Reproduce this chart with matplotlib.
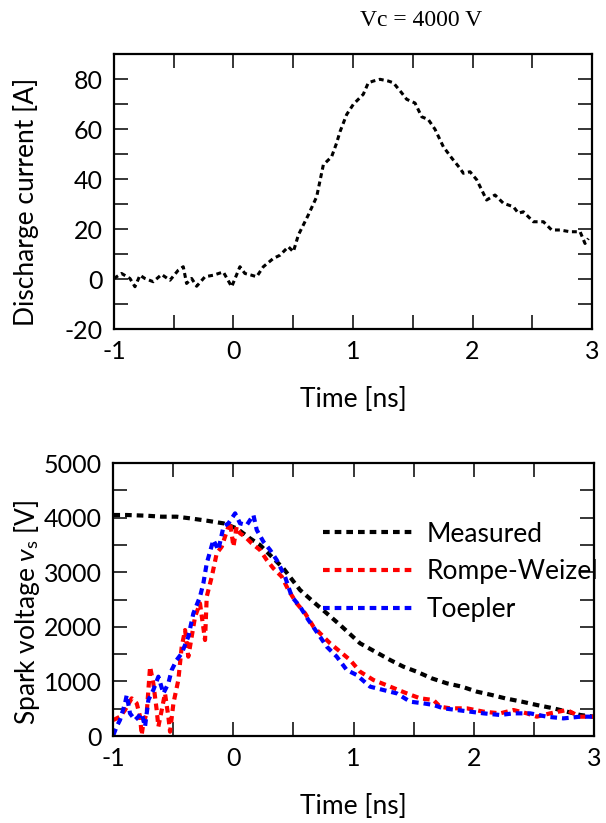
import matplotlib
matplotlib.use('Agg')
import matplotlib.pyplot as plt
from matplotlib.ticker import MultipleLocator

plt.rcParams['font.family'] = ['Lato', 'DejaVu Sans']
plt.rcParams['axes.unicode_minus'] = False
plt.rcParams['mathtext.fontset'] = 'custom'
plt.rcParams['mathtext.rm'] = 'Lato'
plt.rcParams['mathtext.it'] = 'Lato:italic'

# corriente de descarga (painel de cima)
t_corrente = [-1.00, -0.936, -0.866, -0.824, -0.782, -0.741, -0.671, -0.601, -0.531, -0.462,
              -0.420, -0.392, -0.350, -0.308, -0.238, -0.169, -0.085, -0.015, 0.054, 0.096,
              0.152, 0.194, 0.250, 0.333, 0.389, 0.459, 0.501, 0.543, 0.626, 0.696,
              0.752, 0.821, 0.863, 0.891, 0.947, 1.003, 1.086, 1.128, 1.170, 1.226,
              1.296, 1.338, 1.407, 1.449, 1.519, 1.575, 1.630, 1.686, 1.756, 1.826,
              1.895, 1.923, 1.979, 2.035, 2.118, 2.188, 2.258, 2.342, 2.384, 2.425,
              2.509, 2.593, 2.662, 2.732, 2.816, 2.900, 2.941, 2.969]
corrente = [0.3, 2.3, 0.3, -3.0, 1.6, 0.3, -1.0, 1.9, -0.4, 3.6,
            5.0, -1.7, 0.3, -2.8, 1.0, 1.6, 2.9, -3.0, 5.0, 2.3,
            1.6, 1.0, 5.0, 8.3, 9.6, 13.0, 11.0, 17.7, 25.7, 33.0,
            45.8, 49.0, 54.5, 59.0, 65.9, 70.0, 74.0, 78.6, 79.3, 80.0,
            79.3, 78.6, 74.6, 72.0, 70.5, 65.0, 63.9, 60.0, 53.0, 48.5,
            44.4, 42.4, 43.0, 39.8, 31.7, 33.7, 30.4, 29.0, 26.4, 27.0,
            23.0, 23.0, 19.7, 19.7, 19.0, 19.0, 14.3, 16.3]

# tensao medida
t_medida = [-0.997, -0.886, -0.720, -0.595, -0.471, -0.360, -0.221, -0.082, 0.028, 0.139,
            0.222, 0.319, 0.416, 0.555, 0.680, 0.777, 0.888, 1.054, 1.179, 1.304,
            1.414, 1.525, 1.650, 1.775, 1.900, 2.025, 2.149, 2.260, 2.399, 2.523,
            2.662, 2.773, 2.884, 2.994]
v_medida = [4048, 4048, 4035, 4017, 4017, 3987, 3944, 3895, 3803, 3620,
            3498, 3285, 3071, 2674, 2430, 2247, 2033, 1697, 1545, 1392,
            1270, 1178, 1056, 965, 904, 812, 751, 690, 629, 568,
            507, 446, 385, 354]

# Rompe-Weizel
t_rompe = [-0.997, -0.942, -0.900, -0.845, -0.803, -0.775, -0.762, -0.748, -0.720, -0.692,
           -0.665, -0.637, -0.623, -0.595, -0.568, -0.540, -0.526, -0.498, -0.457, -0.429,
           -0.401, -0.374, -0.346, -0.318, -0.277, -0.235, -0.221, -0.179, -0.138, -0.096,
           -0.069, -0.027, 0.001, 0.028, 0.056, 0.098, 0.153, 0.222, 0.278, 0.333,
           0.403, 0.458, 0.527, 0.597, 0.666, 0.749, 0.805, 0.888, 0.971, 1.054,
           1.165, 1.304, 1.442, 1.553, 1.664, 1.719, 1.802, 1.941, 2.080, 2.218,
           2.329, 2.440, 2.523, 2.634, 2.773, 2.884, 2.994]
v_rompe = [293, 354, 476, 690, 598, 354, 18, 232, 415, 1270,
           965, 476, 171, 476, 781, 354, 79, 598, 1026, 1636,
           1941, 1453, 1819, 2186, 2430, 1758, 2552, 2918, 3346, 3468,
           3651, 3925, 3468, 3834, 3712, 3651, 3529, 3407, 3223, 3071,
           2918, 2674, 2430, 2247, 2003, 1819, 1697, 1545, 1392, 1178,
           1026, 904, 781, 690, 659, 537, 507, 507, 446, 415,
           476, 415, 354, 415, 476, 354, 354]

# Toepler
t_toepler = [-0.997, -0.970, -0.942, -0.900, -0.886, -0.859, -0.817, -0.789, -0.762, -0.734,
             -0.706, -0.665, -0.623, -0.581, -0.540, -0.512, -0.471, -0.429, -0.374, -0.332,
             -0.277, -0.249, -0.221, -0.166, -0.124, -0.082, -0.041, 0.015, 0.056, 0.112,
             0.167, 0.195, 0.250, 0.306, 0.361, 0.430, 0.486, 0.555, 0.624, 0.721,
             0.777, 0.860, 0.943, 1.026, 1.137, 1.248, 1.359, 1.470, 1.581, 1.664,
             1.747, 1.858, 1.969, 2.080, 2.218, 2.329, 2.468, 2.606, 2.745, 2.884, 2.994]
v_toepler = [18, 171, 293, 598, 751, 415, 293, 354, 415, 171,
             659, 842, 1087, 781, 965, 1209, 1392, 1514, 1819, 2247,
             2552, 2796, 3162, 3590, 3407, 3834, 3895, 4078, 3895, 3864,
             4048, 3773, 3559, 3407, 3223, 2918, 2552, 2369, 2125, 1819,
             1636, 1453, 1209, 1117, 904, 842, 781, 629, 598, 568,
             507, 476, 446, 415, 385, 415, 415, 354, 323, 354, 354]

tracejado = (0, (1.6, 1.2))

fig = plt.figure(figsize=(6.06, 8.23), dpi=100)
ax1 = fig.add_axes([0.188, 0.600, 0.789, 0.334])
ax2 = fig.add_axes([0.1865, 0.1057, 0.794, 0.3317])

ax1.plot(t_corrente, corrente, color='black', lw=2.2, linestyle=tracejado)
ax1.set_xlim(-1, 3)
ax1.set_ylim(-20, 90)
ax1.yaxis.set_major_locator(MultipleLocator(20))
ax1.yaxis.set_minor_locator(MultipleLocator(10))
ax1.set_ylabel('Discharge current [A]', fontsize=19)
ax1.yaxis.set_label_coords(-0.157, 0.465)
ax1.set_xlabel('Time [ns]', fontsize=19, labelpad=17)

ax2.plot(t_medida, v_medida, color='black', lw=3, linestyle=tracejado, label='Measured')
ax2.plot(t_rompe, v_rompe, color='red', lw=3, linestyle=tracejado, label='Rompe-Weizel')
ax2.plot(t_toepler, v_toepler, color='blue', lw=3, linestyle=tracejado, label='Toepler')
ax2.set_xlim(-1, 3)
ax2.set_ylim(0, 5000)
ax2.yaxis.set_major_locator(MultipleLocator(1000))
ax2.yaxis.set_minor_locator(MultipleLocator(500))
ax2.set_ylabel('Spark voltage $\\mathit{v}_\\mathrm{s}$ [V]', fontsize=19)
ax2.yaxis.set_label_coords(-0.148, 0.454)
ax2.set_xlabel('Time [ns]', fontsize=19, labelpad=17)
ax2.legend(loc='upper left', bbox_to_anchor=(0.437, 0.785), frameon=False, fontsize=19,
           handlelength=3.4, handletextpad=0.5, labelspacing=0.48, borderaxespad=0,
           borderpad=0)

for ax in (ax1, ax2):
    ax.xaxis.set_major_locator(MultipleLocator(1))
    ax.xaxis.set_minor_locator(MultipleLocator(0.5))
    ax.tick_params(which='both', direction='in', top=True, right=True, length=10, width=1.1,
                   labelsize=18, pad=8)
    for s in ax.spines.values():
        s.set_linewidth(1.6)

fig.text(0.695, 0.975, 'Vc = 4000 V', fontsize=17, family='Liberation Serif', ha='center', va='center')

fig.savefig('out.png', dpi=100)
